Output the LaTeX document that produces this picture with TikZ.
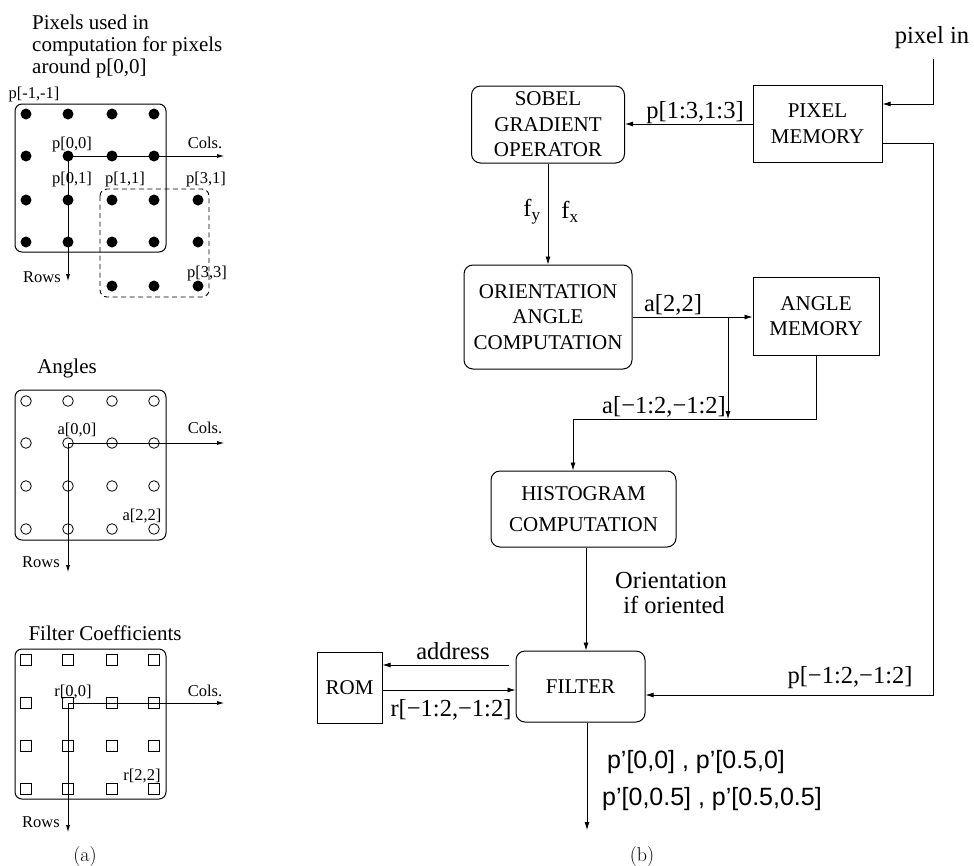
\documentclass[tikz,border=0pt]{standalone}
\usepackage{fontspec}
\setmainfont{Liberation Serif}
\newfontfamily\sansf{Liberation Sans}
\usetikzlibrary{arrows.meta}
\begin{document}
\begin{tikzpicture}[x=1pt,y=-1pt,
  arr/.style={line width=0.8pt,-{Latex[length=8pt,width=5pt]}},
  sarr/.style={line width=0.7pt,-{Latex[length=7pt,width=4pt]}},
  blk/.style={draw,line width=1pt,align=center,inner sep=0pt,font=\fontsize{21}{25.5}\selectfont},
  rblk/.style={blk,rounded corners=9pt},
  lbl/.style={inner sep=0pt,font=\fontsize{24.5}{26}\selectfont},
  sml/.style={inner sep=0pt,font=\fontsize{16.5}{18}\selectfont},
  ttl/.style={inner sep=0pt,font=\fontsize{21}{22}\selectfont},
  sns/.style={inner sep=0pt,font=\sansf\fontsize{25}{27}\selectfont},
  subcap/.style={inner sep=0pt,font=\fontfamily{lmr}\fontsize{20}{22}\selectfont},
  panel/.style={line width=1pt,rounded corners=7pt}
]
\useasboundingbox (0,0) rectangle (974,865);

% ---------------- Panel (a) 1: pixels ----------------
\node[ttl,anchor=base west] (t1a) at (32,29) {Pixels used in};
\node[ttl,anchor=base west] (t1b) at (32,51) {computation for pixels};
\node[ttl,anchor=base west] (t1c) at (32,73) {around p[0,0]};
\draw[panel] (15,104) rectangle (166,252);
\draw[line width=0.9pt,dash pattern=on 5pt off 3.5pt,rounded corners=7pt] (100,189) rectangle (209,297);
\coordinate (o1) at (68,156);
\coordinate (c1) at (224,156);
\coordinate (r1) at (68,281);
\draw[sarr] (o1) -- (c1);
\draw[sarr] (o1) -- (r1);
\foreach \x in {26,68,112,154} \foreach \y in {114,156,200,242} \fill (\x,\y) circle[radius=5.5pt];
\foreach \x/\y in {198/200,198/242,198/286,112/286,154/286} \fill (\x,\y) circle[radius=5.5pt];
\node[sml] (pmm) at (34,95) {p[-1,-1]};
\node[sml] (p00) at (72,145) {p[0,0]};
\node[sml] (cl1) at (205,143) {Cols.};
\node[sml] (p01) at (72,180) {p[0,1]};
\node[sml] (p11) at (125,180) {p[1,1]};
\node[sml] (p31) at (206,180) {p[3,1]};
\node[sml] (p33) at (207,274) {p[3,3]};
\node[sml] (rw1) at (42,277) {Rows};

% ---------------- Panel (a) 2: angles ----------------
\node[ttl] (t2) at (67,368) {Angles};
\draw[panel] (15,390) rectangle (166,540);
\coordinate (o2) at (68,443);
\coordinate (c2) at (224,443);
\coordinate (r2) at (68,572);
\draw[sarr] (o2) -- (c2);
\draw[sarr] (o2) -- (r2);
\foreach \x in {26,68,112,154} \foreach \y in {401,443,486,529} \draw[line width=0.8pt] (\x,\y) circle[radius=5.3pt];
\node[sml] (a00) at (77,430) {a[0,0]};
\node[sml] (cl2) at (205,428) {Cols.};
\node[sml] (a22) at (142,516) {a[2,2]};
\node[sml] (rw2) at (41,562) {Rows};

% ---------------- Panel (a) 3: filter coefficients ----------------
\node[ttl] (t3) at (105,633) {Filter Coefficients};
\draw[panel] (15,649) rectangle (166,799);
\coordinate (o3) at (68,703);
\coordinate (c3) at (224,703);
\coordinate (r3) at (68,832);
\draw[sarr] (o3) -- (c3);
\draw[sarr] (o3) -- (r3);
\foreach \x in {26,68,112,154} \foreach \y in {660,703,746,789} \draw[line width=0.8pt] (\x-5.2,\y-5.2) rectangle (\x+5.2,\y+5.2);
\node[sml] (r00) at (73,692) {r[0,0]};
\node[sml] (cl3) at (205,691) {Cols.};
\node[sml] (r22) at (142,776) {r[2,2]};
\node[sml] (rw3) at (41,822) {Rows};
\node[subcap] (la) at (85,856) {(a)};

% ---------------- Panel (b) ----------------
\node[blk,minimum width=129pt,minimum height=77pt] (pm) at (817.5,123.5) {PIXEL\\MEMORY};
\node[rblk,minimum width=153pt,minimum height=77pt] (sob) at (548,124.5) {SOBEL\\GRADIENT\\OPERATOR};
\node[rblk,minimum width=168pt,minimum height=104pt] (ori) at (548,317) {ORIENTATION\\ANGLE\\COMPUTATION};
\node[blk,minimum width=126pt,minimum height=78pt] (am) at (816,316) {ANGLE\\MEMORY};
\node[rblk,minimum width=185pt,minimum height=76pt] (his) at (583.5,509) {HISTOGRAM\\[5pt]COMPUTATION};
\node[rblk,minimum width=129pt,minimum height=71pt] (fil) at (580.5,686.5) {FILTER};
\node[blk,minimum width=65pt,minimum height=71pt] (rom) at (349.5,687.5) {ROM};

% pixel in
\node[lbl] (pin) at (932,38) {pixel in};
\coordinate (pinA) at (933,59);
\coordinate (pinB) at (933,104);
\draw[arr] (pinA) -- (pinB) -- (pinB -| pm.east);

% pixel memory -> sobel
\coordinate (h124) at (700,124);
\draw[arr] (pm.west |- h124) -- (sob.east |- h124);
\node[lbl] (lp13) at (695,113) {p[1:3,1:3]};

% sobel -> orientation
\draw[arr] (sob.south) -- (ori.north);
\node[lbl] (fy) at (532,212) {f\textsubscript{y}};
\node[lbl] (fx) at (570,212) {f\textsubscript{x}};

% orientation -> angle memory
\coordinate (h317) at (700,317);
\draw[arr] (ori.east |- h317) -- (am.west |- h317);
\node[lbl] (la22) at (673,305) {a[2,2]};
\coordinate (br) at (728,317);
\coordinate (brd) at (728,419);
\draw[arr] (br) -- (brd);

% angle memory -> histogram
\coordinate (h419) at (700,419);
\coordinate (hin) at (573,419);
\draw[arr] (am.south) -- (am.south |- h419) -- (hin) -- (hin |- his.north);
\node[lbl] (la12) at (664,407) {a[−1:2,−1:2]};

% histogram -> filter
\coordinate (v586) at (586,600);
\draw[arr] (his.south -| v586) -- (fil.north -| v586);
\node[lbl] (lor1) at (671,580) {Orientation};
\node[lbl] (lor2) at (674,605) {if oriented};

% filter <-> rom
\coordinate (ads) at (509,665);
\draw[arr] (ads) -- (ads -| rom.east);
\node[lbl] (ladr) at (453,651) {address};
\coordinate (h690) at (450,690);
\draw[arr] (rom.east |- h690) -- (fil.west |- h690);
\node[lbl] (lr) at (451,710) {r[−1:2,−1:2]};

% pixel memory -> filter
\coordinate (pmo) at (933,143);
\coordinate (pmd) at (933,695);
\draw[arr] (pm.east |- pmo) -- (pmo) -- (pmd) -- (pmd -| fil.east);
\node[lbl] (lp12) at (850,678) {p[−1:2,−1:2]};

% output
\coordinate (outend) at (587,830);
\draw[arr] (fil.south -| outend) -- (outend);
\node[sns] (ou1) at (696,762) {p’[0,0] , p’[0.5,0]};
\node[sns] (ou2) at (712,799) {p’[0,0.5] , p’[0.5,0.5]};
\node[subcap] (lb) at (642,856) {(b)};
\end{tikzpicture}
\end{document}
